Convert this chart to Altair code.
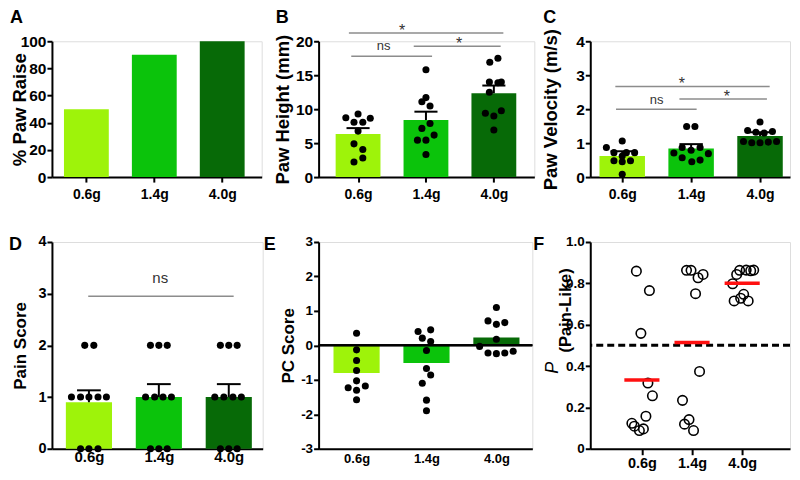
import altair as alt
import pandas as pd

FONT = "Liberation Sans"

categories = ["0.6g", "1.4g", "4.0g"]
bar_colors = ["#9ef30a", "#0bc30b", "#076a07"]

# ---------------- A: % paw raise
paw_raise_pct = [50, 90, 100]

# ---------------- B: paw height (mm)
height_mean = [6.33, 8.40, 12.35]
height_sem_top = [7.21, 9.63, 13.48]
height_06 = [8.74, 9.29, 8.65, 8.06, 8.06, 6.77, 4.89, 4.06, 2.82, 2.22]
height_14 = [15.8, 11.7, 11.1, 10.47, 7.9, 7.17, 6.18, 5.44, 5.44, 3.32]
height_40 = [16.9, 17.5, 14.0, 13.9, 14.0, 12.5, 9.39, 9.0, 9.78, 6.92]
height_jit_06 = [-0.18, 0, 0.18, -0.06, 0.07, 0, -0.06, 0.07, 0.07, -0.06]
height_jit_14 = [0, 0, -0.06, 0.06, 0.06, -0.06, 0.12, -0.125, 0, 0]
height_jit_40 = [-0.06, 0.06, -0.066, 0.06, 0.11, -0.066, -0.125, 0, 0.11, 0]
height_brk_x1 = [-0.135, -0.10, 0.82]
height_brk_x2 = [2.14, 1.09, 2.10]
height_brk_y = [21.2, 17.8, 19.26]
height_brk_lab = ["*", "ns", "*"]
height_brk_lab_x = [0.65, 0.375, 1.49]

# ---------------- C: paw velocity (m/s)
vel_mean = [0.62, 0.84, 1.21]
vel_sem_top = [0.76, 0.97, 1.32]
vel_06 = [1.06, 0.87, 0.72, 0.72, 0.72, 0.48, 0.45, 0.48, 0.08, 0.62]
vel_14 = [1.49, 1.49, 0.87, 0.79, 0.87, 0.71, 0.57, 0.45, 0.50, 0.69]
vel_40 = [1.62, 1.37, 1.32, 1.30, 1.34, 1.05, 1.01, 1.01, 1.03, 1.05]
vel_jit_06 = [0, -0.23, -0.12, 0.06, 0.18, -0.12, 0, 0.12, 0, 0]
vel_jit_14 = [-0.065, 0.055, -0.13, 0, 0.13, -0.25, -0.13, 0.01, 0.13, 0.25]
vel_jit_40 = [0, -0.18, -0.06, 0.06, 0.18, -0.24, -0.12, 0, 0.12, 0.24]
vel_brk_x1 = [-0.10, -0.09, 0.83]
vel_brk_x2 = [2.14, 1.08, 2.10]
vel_brk_y = [2.67, 2.0, 2.3]
vel_brk_lab = ["*", "ns", "*"]
vel_brk_lab_x = [0.865, 0.5, 1.52]

# ---------------- D: pain score
pain_mean = [0.9, 1.0, 1.0]
pain_sem_top = [1.13, 1.25, 1.25]
pain_06 = [2, 2, 1, 1, 1, 1, 1, 0, 0, 0]
pain_14 = [2, 2, 2, 1, 1, 1, 1, 0, 0, 0]
pain_40 = [2, 2, 2, 1, 1, 1, 1, 0, 0, 0]
pain_jit_06 = [-0.06, 0.07, -0.25, -0.12, 0, 0.13, 0.25, -0.12, 0, 0.13]
pain_jit_14 = [-0.12, 0, 0.12, -0.19, -0.06, 0.06, 0.18, -0.12, 0, 0.12]
pain_jit_40 = [-0.12, 0, 0.12, -0.2, -0.07, 0.06, 0.18, -0.12, 0, 0.12]
pain_brk_x1 = [-0.01]
pain_brk_x2 = [2.07]
pain_brk_y = [2.95]
pain_brk_lab = ["ns"]
pain_brk_lab_x = [1.02]

# ---------------- E: PC score
pc_mean = [-0.80, -0.51, 0.23]
pc_06 = [0.35, -0.13, -0.44, -0.73, -1.03, -1.23, -1.18, -1.30, -1.58]
pc_14 = [0.40, 0.45, 0.21, 0.11, -0.15, -0.67, -0.86, -1.10, -1.59, -1.90]
pc_40 = [1.10, 0.71, 0.66, 0.61, 0.18, -0.03, -0.22, -0.24, -0.22, -0.17]
pc_jit_06 = [0, 0, 0, 0, 0, -0.12, 0.125, 0, 0]
pc_jit_14 = [-0.12, 0.06, -0.06, 0.06, 0, 0, 0.06, -0.06, 0, 0]
pc_jit_40 = [0, -0.12, 0.12, 0, 0, -0.24, -0.12, 0, 0.12, 0.24]

# ---------------- F: P(pain-like)
prob_mean = [0.333, 0.514, 0.80]
prob_06 = [0.859, 0.765, 0.558, 0.318, 0.256, 0.157, 0.123, 0.109, 0.088, 0.096]
prob_14 = [0.863, 0.863, 0.843, 0.827, 0.750, 0.374, 0.234, 0.119, 0.141, 0.088]
prob_40 = [0.798, 0.843, 0.863, 0.864, 0.861, 0.864, 0.715, 0.728, 0.747, 0.715]
prob_jit_06 = [-0.11, 0.15, -0.02, 0.12, 0.21, 0.08, -0.2, -0.15, -0.05, 0.03]
prob_jit_14 = [-0.11, -0.02, 0.22, 0.12, 0.07, 0.15, -0.19, -0.15, -0.06, 0.03]
prob_jit_40 = [-0.19, -0.11, -0.05, 0.08, 0.17, 0.23, -0.16, -0.03, 0.03, 0.12]
prob_threshold = 0.5

LABEL_EXPR = "[" + ",".join("'%s'" % c for c in categories) + "][datum.value]"
CAT_COLOR = alt.Color("cat:N", scale=alt.Scale(domain=categories, range=bar_colors), legend=None)


def bar_df(means, tops=None):
    d = pd.DataFrame({"cat": categories, "idx": [0, 1, 2], "mean": means})
    if tops is not None:
        d["top"] = tops
    return d


def pts_df(groups, jits):
    rows = []
    for i, (vals, js) in enumerate(zip(groups, jits)):
        for v, j in zip(vals, js):
            rows.append({"cat": categories[i], "idx": i, "jit": j, "v": v})
    return pd.DataFrame(rows)


def x_axis(fs, tick, pad):
    kw = dict(values=[0, 1, 2], labelExpr=LABEL_EXPR, title=None, grid=False,
              domainColor="black", domainWidth=2, labelFontSize=fs, labelFontWeight="bold",
              labelColor="black", labelPadding=pad, labelFlush=False, labelOverlap=False,
              labelFont=FONT)
    if tick > 0:
        kw.update(ticks=True, tickSize=tick, tickWidth=2, tickColor="black")
    else:
        kw.update(ticks=False)
    return alt.Axis(**kw)


def y_axis(vals, title, fs, tfs, tx, ty=None, expr=None):
    kw = dict(values=vals, title=title, grid=False, domainColor="black", domainWidth=2,
              ticks=True, tickSize=5, tickWidth=2, tickColor="black",
              labelFontSize=fs, labelFontWeight="bold", labelColor="black", labelPadding=1,
              labelFont=FONT, titleFontSize=tfs, titleFontWeight="bold", titleColor="black",
              titleFont=FONT, titleX=tx)
    if ty is not None:
        kw["titleY"] = ty
    if expr:
        kw["labelExpr"] = expr
    return alt.Axis(**kw)


def encoders(xdom, ydom, xax, yax):
    xsc = alt.Scale(domain=xdom, nice=False, zero=False)
    ysc = alt.Scale(domain=ydom, nice=False, zero=False)
    X = lambda f: alt.X(f, scale=xsc, axis=xax)
    Y = lambda f: alt.Y(f, scale=ysc, axis=yax)
    return X, Y


def bars(df, X, Y):
    return alt.Chart(df).transform_calculate(
        xl="datum.idx - 0.33", xr="datum.idx + 0.33"
    ).mark_bar().encode(x=X("xl:Q"), x2="xr:Q", y=Y("mean:Q"), y2=alt.datum(0), color=CAT_COLOR)


def errbars(df, X, Y):
    stem = alt.Chart(df).mark_rule(color="black", strokeWidth=2).encode(
        x=X("idx:Q"), y=Y("mean:Q"), y2="top:Q")
    cap = alt.Chart(df).transform_calculate(
        cl="datum.idx - 0.17", cr="datum.idx + 0.17"
    ).mark_rule(color="black", strokeWidth=2).encode(x=X("cl:Q"), x2="cr:Q", y=Y("top:Q"))
    return [stem, cap]


def dots(df, X, Y, size=50):
    return alt.Chart(df).transform_calculate(px="datum.idx + datum.jit").mark_circle(
        size=size, color="black", opacity=1).encode(x=X("px:Q"), y=Y("v:Q"))


def brackets(x1, x2, y, labs, labx, X, Y, star_fs=16, ns_fs=13, star_dy=3, ns_dy=-6):
    ldf = pd.DataFrame({"x1": x1, "x2": x2, "y": y})
    tdf = pd.DataFrame({"t": labs, "x": labx, "y": y})
    lines = alt.Chart(ldf).mark_rule(color="#8c8c8c", strokeWidth=1.5).encode(
        x=X("x1:Q"), x2="x2:Q", y=Y("y:Q"))
    out = [lines]
    if "*" in labs:
        out.append(alt.Chart(tdf).transform_filter("datum.t == '*'").mark_text(
            fontSize=star_fs, dy=star_dy, baseline="alphabetic", color="#333333", font=FONT
        ).encode(x=X("x:Q"), y=Y("y:Q"), text="t:N"))
    if "ns" in labs:
        out.append(alt.Chart(tdf).transform_filter("datum.t == 'ns'").mark_text(
            fontSize=ns_fs, dy=ns_dy, baseline="alphabetic", color="#333333", font=FONT
        ).encode(x=X("x:Q"), y=Y("y:Q"), text="t:N"))
    return out


def letter(ch, x, y):
    return alt.Chart(pd.DataFrame({"t": [ch]})).mark_text(
        fontSize=18, fontWeight="bold", align="left", baseline="alphabetic", color="black", font=FONT
    ).encode(x=alt.value(x), y=alt.value(y), text="t:N")


TOP_H = 136
BOT_H = 207

# ---- Panel A
X, Y = encoders([-0.507, 2.581], [0, 100], x_axis(14, 5, 5),
                y_axis([0, 20, 40, 60, 80, 100], "% Paw Raise", 15.5, 18.5, -22))
panelA = alt.layer(bars(bar_df(paw_raise_pct), X, Y), letter("A", -42, -18)).properties(
    width=210, height=TOP_H)

# ---- Panel B
X, Y = encoders([-0.581, 2.596], [0, 20], x_axis(14, 5, 5),
                y_axis([0, 5, 10, 15, 20], "Paw Height (mm)", 15.5, 18.5, -26))
dB = bar_df(height_mean, height_sem_top)
panelB = alt.layer(
    bars(dB, X, Y), *errbars(dB, X, Y),
    dots(pts_df([height_06, height_14, height_40], [height_jit_06, height_jit_14, height_jit_40]), X, Y),
    *brackets(height_brk_x1, height_brk_x2, height_brk_y, height_brk_lab, height_brk_lab_x, X, Y),
    letter("B", -43, -18),
).properties(width=216, height=TOP_H)

# ---- Panel C
X, Y = encoders([-0.464, 2.435], [0, 4], x_axis(14, 5, 5),
                y_axis([0, 1, 2, 3, 4], "Paw Velocity (m/s)", 15.5, 18.5, -30))
dC = bar_df(vel_mean, vel_sem_top)
panelC = alt.layer(
    bars(dC, X, Y), *errbars(dC, X, Y),
    dots(pts_df([vel_06, vel_14, vel_40], [vel_jit_06, vel_jit_14, vel_jit_40]), X, Y),
    *brackets(vel_brk_x1, vel_brk_x2, vel_brk_y, vel_brk_lab, vel_brk_lab_x, X, Y, ns_dy=-5),
    letter("C", -47, -18),
).properties(width=200, height=TOP_H)

# ---- Panel D
X, Y = encoders([-0.529, 2.485], [0, 4], x_axis(15, 0, 1),
                y_axis([0, 1, 2, 3, 4], "Pain Score", 14.5, 17, -22))
dD = bar_df(pain_mean, pain_sem_top)
panelD = alt.layer(
    bars(dD, X, Y), *errbars(dD, X, Y),
    dots(pts_df([pain_06, pain_14, pain_40], [pain_jit_06, pain_jit_14, pain_jit_40]), X, Y),
    *brackets(pain_brk_x1, pain_brk_x2, pain_brk_y, pain_brk_lab, pain_brk_lab_x, X, Y,
              ns_fs=15, ns_dy=-13),
    letter("D", -43, 8),
).properties(width=211, height=BOT_H)

# ---- Panel E
X, Y = encoders([-0.543, 2.514], [-3, 3], x_axis(13, 0, 4),
                y_axis([-3, -2, -1, 0, 1, 2, 3], "PC Score", 13.5, 17, -21, expr="'' + datum.value"))
dE = bar_df(pc_mean)
zeroE = alt.Chart(dE).mark_rule(color="black", strokeWidth=2).encode(y=Y("z:Q")).transform_calculate(z="0")
panelE = alt.layer(
    bars(dE, X, Y), zeroE,
    dots(pts_df([pc_06, pc_14, pc_40], [pc_jit_06, pc_jit_14, pc_jit_40]), X, Y),
    letter("E", -55, 8),
).properties(width=214, height=BOT_H)

# ---- Panel F
X, Y = encoders([-1.03, 2.954], [0, 1], x_axis(14.5, 6, 2),
                y_axis([0, 0.2, 0.4, 0.6, 0.8, 1.0], "(Pain-Like)", 13.5, 16.5, -17, ty=68,
                       expr="datum.value == 0 ? '0' : format(datum.value, '.1f')"))
dF = bar_df(prob_mean)
thr = alt.Chart(pd.DataFrame({"thr": [prob_threshold]})).mark_rule(
    color="black", strokeWidth=3, strokeDash=[7, 4]).encode(y=Y("thr:Q"))
circF = alt.Chart(pts_df([prob_06, prob_14, prob_40], [prob_jit_06, prob_jit_14, prob_jit_40])
                  ).transform_calculate(px="datum.idx + datum.jit").mark_point(
    shape="circle", filled=False, size=90, color="black", strokeWidth=1.6, opacity=1
).encode(x=X("px:Q"), y=Y("v:Q"))
redF = alt.Chart(dF).transform_calculate(
    ml="datum.idx - 0.35", mr="datum.idx + 0.35"
).mark_rule(color="#ff1010", strokeWidth=3.5).encode(x=X("ml:Q"), x2="mr:Q", y=Y("mean:Q"))
italicP = alt.Chart(pd.DataFrame({"t": ["P"]})).mark_text(
    fontSize=18, fontStyle="italic", angle=270, align="center", baseline="middle",
    color="black", font=FONT).encode(x=alt.value(-37), y=alt.value(126), text="t:N")
panelF = alt.layer(thr, circF, redF, italicP, letter("F", -57, 8)).properties(
    width=200, height=BOT_H)

chart = alt.concat(
    panelA, panelB, panelC, panelD, panelE, panelF,
    columns=3, spacing={"row": 65, "column": 56}, bounds="flush",
).properties(padding=0).configure_view(stroke=None).configure(font=FONT)

chart.save("out.html", embed_options={"renderer": "svg", "actions": False})
